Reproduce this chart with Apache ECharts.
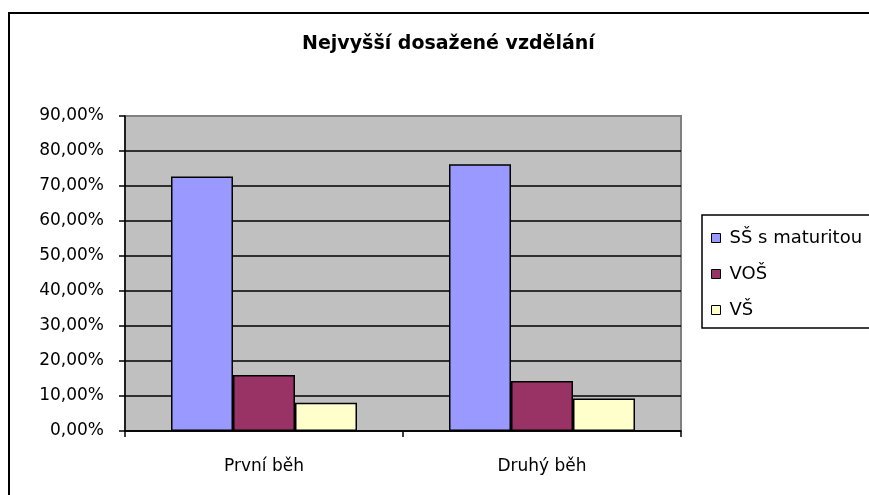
<!DOCTYPE html>
<html>
<head>
<meta charset="utf-8">
<script src="https://cdn.jsdelivr.net/npm/echarts@6/dist/echarts.min.js"></script>
<style>
  html, body { margin: 0; padding: 0; background: #fff; }
  #chart { width: 869px; height: 495px; }
</style>
</head>
<body>
<div id="chart"></div>
<script>
var categories = ['První běh', 'Druhý běh'];
var seriesNames = ['SŠ s maturitou', 'VOŠ', 'VŠ'];
var ssValues = [72.7, 76.2];
var vosValues = [16.0, 14.3];
var vsValues = [8.1, 9.3];

var font = '"DejaVu Sans", "Liberation Sans", Arial, sans-serif';
var chart = echarts.init(document.getElementById('chart'));

// gridlines black, the top one sits on the grey plot border
var gridColors = ['#000', '#000', '#000', '#000', '#000', '#000', '#000', '#000', '#000', '#808080'];

var option = {
  animation: false,
  backgroundColor: '#fff',
  title: {
    text: 'Nejvyšší dosažené vzdělání',
    left: 297,
    top: 30,
    padding: 5,
    textStyle: { fontFamily: font, fontSize: 19, fontWeight: 'bold', color: '#000' }
  },
  legend: {
    data: seriesNames,
    orient: 'vertical',
    left: 706,
    top: 224,
    icon: 'rect',
    itemWidth: 9,
    itemHeight: 9,
    itemGap: 18,
    textStyle: { fontFamily: font, fontSize: 18, color: '#000', padding: [0, 0, 0, 4] },
    itemStyle: { borderColor: '#000', borderWidth: 1 }
  },
  graphic: [
    { type: 'rect', shape: { x: 9, y: 13, width: 900, height: 520 },
      style: { fill: 'none', stroke: '#000', lineWidth: 2 }, silent: true },
    { type: 'rect', shape: { x: 702, y: 215, width: 200, height: 113 },
      style: { fill: 'none', stroke: '#000', lineWidth: 1.5 }, silent: true }
  ],
  grid: {
    left: 125, top: 116, right: 188, bottom: 64,
    show: true,
    backgroundColor: '#C0C0C0',
    borderColor: '#808080',
    borderWidth: 2
  },
  xAxis: {
    type: 'category',
    data: categories,
    boundaryGap: true,
    axisLine: { lineStyle: { color: '#000', width: 1.5 } },
    axisTick: { show: true, length: 6, lineStyle: { color: '#000', width: 1.5 } },
    axisLabel: { fontFamily: font, fontSize: 17, color: '#000', margin: 27 }
  },
  yAxis: {
    type: 'value',
    min: 0,
    max: 90,
    interval: 10,
    axisLine: { show: true, lineStyle: { color: '#000', width: 1.5 } },
    axisTick: { show: true, length: 6, lineStyle: { color: '#000', width: 1.5 } },
    axisLabel: {
      fontFamily: font, fontSize: 17, color: '#000', margin: 21,
      padding: [5, 0, 0, 0],
      formatter: function (v) { return v.toFixed(2).replace('.', ',') + '%'; }
    },
    splitLine: { show: true, lineStyle: { color: gridColors, width: 1.5 } }
  },
  series: [
    { name: seriesNames[0], type: 'bar', data: ssValues, barWidth: 62, barGap: '0%',
      itemStyle: { color: '#9999FF', borderColor: '#000', borderWidth: 1.5 } },
    { name: seriesNames[1], type: 'bar', data: vosValues, barWidth: 62, barGap: '0%',
      itemStyle: { color: '#993366', borderColor: '#000', borderWidth: 1.5 } },
    { name: seriesNames[2], type: 'bar', data: vsValues, barWidth: 62, barGap: '0%',
      itemStyle: { color: '#FFFFCC', borderColor: '#000', borderWidth: 1.5 } }
  ]
};

chart.setOption(option);
</script>
</body>
</html>
